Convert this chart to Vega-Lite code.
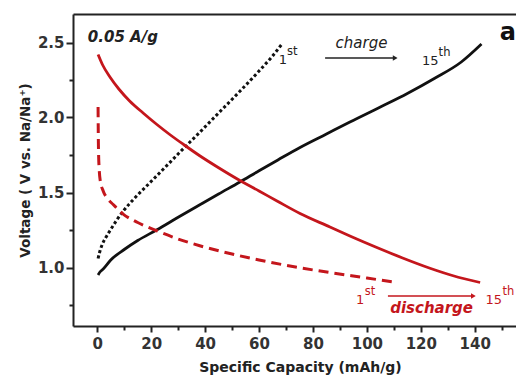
{
  "$schema": "https://vega.github.io/schema/vega-lite/v6.json",
  "width": 443,
  "height": 312,
  "autosize": {"type": "none"},
  "padding": {"left": 73, "top": 14, "right": 0, "bottom": 53},
  "background": "white",
  "config": {"view": {"stroke": null}},
  "datasets": {
    "curves": [
      {"series": "c1", "cap": 0.3, "v": 1.06}, {"series": "c1", "cap": 1, "v": 1.11}, {"series": "c1", "cap": 2, "v": 1.16}, {"series": "c1", "cap": 3.5, "v": 1.21}, {"series": "c1", "cap": 4.7, "v": 1.245}, {"series": "c1", "cap": 7, "v": 1.31}, {"series": "c1", "cap": 9.6, "v": 1.375}, {"series": "c1", "cap": 14, "v": 1.465}, {"series": "c1", "cap": 19.5, "v": 1.565}, {"series": "c1", "cap": 25, "v": 1.665}, {"series": "c1", "cap": 30.7, "v": 1.77}, {"series": "c1", "cap": 38.2, "v": 1.905}, {"series": "c1", "cap": 45, "v": 2.03}, {"series": "c1", "cap": 52.9, "v": 2.175}, {"series": "c1", "cap": 60, "v": 2.31}, {"series": "c1", "cap": 65, "v": 2.41}, {"series": "c1", "cap": 68.5, "v": 2.49},
      {"series": "c15", "cap": 0.3, "v": 0.95}, {"series": "c15", "cap": 1, "v": 0.97}, {"series": "c15", "cap": 2.2, "v": 0.99}, {"series": "c15", "cap": 5, "v": 1.05}, {"series": "c15", "cap": 10, "v": 1.12}, {"series": "c15", "cap": 15, "v": 1.18}, {"series": "c15", "cap": 22, "v": 1.25}, {"series": "c15", "cap": 30, "v": 1.335}, {"series": "c15", "cap": 38.2, "v": 1.42}, {"series": "c15", "cap": 45, "v": 1.49}, {"series": "c15", "cap": 52.9, "v": 1.57}, {"series": "c15", "cap": 60, "v": 1.645}, {"series": "c15", "cap": 67, "v": 1.717}, {"series": "c15", "cap": 75.2, "v": 1.8}, {"series": "c15", "cap": 85, "v": 1.89}, {"series": "c15", "cap": 93.7, "v": 1.97}, {"series": "c15", "cap": 105, "v": 2.07}, {"series": "c15", "cap": 115, "v": 2.16}, {"series": "c15", "cap": 125, "v": 2.26}, {"series": "c15", "cap": 135, "v": 2.37}, {"series": "c15", "cap": 142.5, "v": 2.49},
      {"series": "d15", "cap": 0.3, "v": 2.42}, {"series": "d15", "cap": 2, "v": 2.35}, {"series": "d15", "cap": 4.7, "v": 2.27}, {"series": "d15", "cap": 8, "v": 2.19}, {"series": "d15", "cap": 12, "v": 2.11}, {"series": "d15", "cap": 17, "v": 2.03}, {"series": "d15", "cap": 22, "v": 1.955}, {"series": "d15", "cap": 27, "v": 1.885}, {"series": "d15", "cap": 32, "v": 1.82}, {"series": "d15", "cap": 38, "v": 1.745}, {"series": "d15", "cap": 45, "v": 1.665}, {"series": "d15", "cap": 52.9, "v": 1.58}, {"series": "d15", "cap": 60, "v": 1.51}, {"series": "d15", "cap": 67, "v": 1.44}, {"series": "d15", "cap": 75.2, "v": 1.36}, {"series": "d15", "cap": 86.3, "v": 1.27}, {"series": "d15", "cap": 93.7, "v": 1.21}, {"series": "d15", "cap": 104.8, "v": 1.125}, {"series": "d15", "cap": 113, "v": 1.065}, {"series": "d15", "cap": 123.4, "v": 0.995}, {"series": "d15", "cap": 132, "v": 0.945}, {"series": "d15", "cap": 142, "v": 0.9},
      {"series": "d1", "cap": 0.3, "v": 2.07}, {"series": "d1", "cap": 0.35, "v": 1.95}, {"series": "d1", "cap": 0.4, "v": 1.85}, {"series": "d1", "cap": 0.5, "v": 1.75}, {"series": "d1", "cap": 0.7, "v": 1.66}, {"series": "d1", "cap": 1.1, "v": 1.58}, {"series": "d1", "cap": 2.2, "v": 1.51}, {"series": "d1", "cap": 4, "v": 1.455}, {"series": "d1", "cap": 5.9, "v": 1.42}, {"series": "d1", "cap": 9.6, "v": 1.356}, {"series": "d1", "cap": 15, "v": 1.3}, {"series": "d1", "cap": 22, "v": 1.245}, {"series": "d1", "cap": 30, "v": 1.19}, {"series": "d1", "cap": 38, "v": 1.145}, {"series": "d1", "cap": 50, "v": 1.09}, {"series": "d1", "cap": 60, "v": 1.05}, {"series": "d1", "cap": 73, "v": 1.005}, {"series": "d1", "cap": 86, "v": 0.967}, {"series": "d1", "cap": 100, "v": 0.93}, {"series": "d1", "cap": 111, "v": 0.9}
    ]
  },
  "resolve": {"axis": {"x": "independent", "y": "independent"}},
  "layer": [
    {
      "data": {"name": "curves"},
      "transform": [{"filter": "datum.series === 'c15'"}],
      "mark": {"type": "line", "color": "#111111", "strokeWidth": 2.8, "interpolate": "monotone"},
      "encoding": {
        "x": {"field": "cap", "type": "quantitative", "scale": {"domain": [-9, 155.3], "nice": false, "zero": false},
          "axis": {"orient": "bottom", "values": [0, 20, 40, 60, 80, 100, 120, 140], "grid": false, "tickSize": 6, "tickWidth": 2, "tickColor": "#222222", "domainColor": "#222222", "domainWidth": 2, "labelFont": "DejaVu Sans", "labelFontWeight": "bold", "labelFontSize": 15, "labelColor": "#333333", "labelPadding": 4, "title": "Specific Capacity (mAh/g)", "titleFont": "DejaVu Sans", "titleFontSize": 14, "titleFontWeight": "bold", "titleColor": "#222222", "titlePadding": 9, "titleX": 227, "titleAlign": "center", "titleAnchor": "start"}},
        "y": {"field": "v", "type": "quantitative", "scale": {"domain": [0.61, 2.69], "nice": false, "zero": false},
          "axis": {"orient": "left", "values": [1, 1.5, 2, 2.5], "format": ".1f", "grid": false, "tickSize": 7, "tickWidth": 2, "tickColor": "#222222", "domainColor": "#222222", "domainWidth": 2, "labelFont": "DejaVu Sans", "labelFontWeight": "bold", "labelFontSize": 15, "labelColor": "#333333", "labelPadding": 2, "title": "Voltage ( V vs. Na/Na⁺)", "titleFont": "DejaVu Sans", "titleFontSize": 13.5, "titleFontWeight": "bold", "titleColor": "#222222", "titlePadding": 5}}
      }
    },
    {
      "data": {"name": "curves"},
      "transform": [{"filter": "datum.series === 'c1'"}],
      "mark": {"type": "line", "color": "#111111", "strokeWidth": 3, "strokeDash": [3, 2.5], "interpolate": "monotone"},
      "encoding": {
        "x": {"field": "cap", "type": "quantitative", "axis": {"orient": "bottom", "values": [10, 30, 50, 70, 90, 110, 130, 150], "labels": false, "domain": false, "grid": false, "tickSize": 4, "tickWidth": 2, "tickColor": "#222222", "title": null}},
        "y": {"field": "v", "type": "quantitative", "axis": {"orient": "left", "values": [0.75, 1.25, 1.75, 2.25], "labels": false, "domain": false, "grid": false, "tickSize": 4, "tickWidth": 2, "tickColor": "#222222", "title": null}}
      }
    },
    {
      "data": {"name": "curves"},
      "transform": [{"filter": "datum.series === 'd15'"}],
      "mark": {"type": "line", "color": "#c4161c", "strokeWidth": 2.8, "interpolate": "monotone"},
      "encoding": {
        "x": {"field": "cap", "type": "quantitative", "axis": {"orient": "top", "labels": false, "ticks": false, "domain": true, "domainColor": "#222222", "domainWidth": 2, "grid": false, "title": null}},
        "y": {"field": "v", "type": "quantitative", "axis": null}
      }
    },
    {
      "data": {"name": "curves"},
      "transform": [{"filter": "datum.series === 'd1'"}],
      "mark": {"type": "line", "color": "#c4161c", "strokeWidth": 3, "strokeDash": [10, 6], "interpolate": "monotone"},
      "encoding": {
        "x": {"field": "cap", "type": "quantitative", "axis": null},
        "y": {"field": "v", "type": "quantitative", "axis": null}
      }
    },
    {
      "data": {"values": [{"label": "0.05 A/g", "cap": -3.5, "v": 2.535}]},
      "mark": {"type": "text", "font": "DejaVu Sans", "fontSize": 15, "fontWeight": "bold", "fontStyle": "italic", "align": "left", "baseline": "middle", "color": "#222222"},
      "encoding": {"x": {"field": "cap", "type": "quantitative", "axis": null}, "y": {"field": "v", "type": "quantitative", "axis": null}, "text": {"field": "label"}}
    },
    {
      "data": {"values": [{"label": "charge", "cap": 98, "v": 2.5}]},
      "mark": {"type": "text", "font": "DejaVu Sans", "fontSize": 15, "fontStyle": "italic", "align": "center", "baseline": "middle", "color": "#222222"},
      "encoding": {"x": {"field": "cap", "type": "quantitative", "axis": null}, "y": {"field": "v", "type": "quantitative", "axis": null}, "text": {"field": "label"}}
    },
    {
      "data": {"values": [{"label": "discharge", "cap": 124, "v": 0.73}]},
      "mark": {"type": "text", "font": "DejaVu Sans", "fontSize": 15, "fontWeight": "bold", "fontStyle": "italic", "align": "center", "baseline": "middle", "color": "#c4161c"},
      "encoding": {"x": {"field": "cap", "type": "quantitative", "axis": null}, "y": {"field": "v", "type": "quantitative", "axis": null}, "text": {"field": "label"}}
    },
    {
      "data": {"values": [{"label": "1", "cap": 67.3, "v": 2.385}, {"label": "15", "cap": 120.4, "v": 2.375}]},
      "mark": {"type": "text", "font": "DejaVu Sans", "fontSize": 13, "align": "left", "baseline": "middle", "color": "#222222"},
      "encoding": {"x": {"field": "cap", "type": "quantitative", "axis": null}, "y": {"field": "v", "type": "quantitative", "axis": null}, "text": {"field": "label"}}
    },
    {
      "data": {"values": [{"label": "st", "cap": 70.4, "v": 2.44}, {"label": "th", "cap": 126.6, "v": 2.43}]},
      "mark": {"type": "text", "font": "DejaVu Sans", "fontSize": 11.5, "align": "left", "baseline": "middle", "color": "#222222"},
      "encoding": {"x": {"field": "cap", "type": "quantitative", "axis": null}, "y": {"field": "v", "type": "quantitative", "axis": null}, "text": {"field": "label"}}
    },
    {
      "data": {"values": [{"label": "1", "cap": 96.0, "v": 0.785}, {"label": "15", "cap": 144.0, "v": 0.785}]},
      "mark": {"type": "text", "font": "DejaVu Sans", "fontSize": 13, "align": "left", "baseline": "middle", "color": "#c4161c"},
      "encoding": {"x": {"field": "cap", "type": "quantitative", "axis": null}, "y": {"field": "v", "type": "quantitative", "axis": null}, "text": {"field": "label"}}
    },
    {
      "data": {"values": [{"label": "st", "cap": 99.2, "v": 0.84}, {"label": "th", "cap": 150.3, "v": 0.835}]},
      "mark": {"type": "text", "font": "DejaVu Sans", "fontSize": 11.5, "align": "left", "baseline": "middle", "color": "#c4161c"},
      "encoding": {"x": {"field": "cap", "type": "quantitative", "axis": null}, "y": {"field": "v", "type": "quantitative", "axis": null}, "text": {"field": "label"}}
    },
    {
      "data": {"values": [{"label": "a", "cap": 152.3, "v": 2.565}]},
      "mark": {"type": "text", "font": "DejaVu Sans", "fontSize": 24, "fontWeight": "bold", "align": "center", "baseline": "middle", "color": "#111111"},
      "encoding": {"x": {"field": "cap", "type": "quantitative", "axis": null}, "y": {"field": "v", "type": "quantitative", "axis": null}, "text": {"field": "label"}}
    },
    {
      "data": {"values": [{"from": 84.5, "to": 110.5, "v": 2.396}]},
      "mark": {"type": "rule", "color": "#222222", "strokeWidth": 1.5},
      "encoding": {"x": {"field": "from", "type": "quantitative", "axis": null}, "x2": {"field": "to"}, "y": {"field": "v", "type": "quantitative", "axis": null}}
    },
    {
      "data": {"values": [{"to": 110.5, "v": 2.396}]},
      "mark": {"type": "point", "shape": "triangle-right", "filled": true, "color": "#222222", "size": 30, "opacity": 1},
      "encoding": {"x": {"field": "to", "type": "quantitative", "axis": null}, "y": {"field": "v", "type": "quantitative", "axis": null}}
    },
    {
      "data": {"values": [{"from": 107.8, "to": 139.5, "v": 0.81}]},
      "mark": {"type": "rule", "color": "#c4161c", "strokeWidth": 1.5},
      "encoding": {"x": {"field": "from", "type": "quantitative", "axis": null}, "x2": {"field": "to"}, "y": {"field": "v", "type": "quantitative", "axis": null}}
    },
    {
      "data": {"values": [{"to": 139.5, "v": 0.81}]},
      "mark": {"type": "point", "shape": "triangle-right", "filled": true, "color": "#c4161c", "size": 30, "opacity": 1},
      "encoding": {"x": {"field": "to", "type": "quantitative", "axis": null}, "y": {"field": "v", "type": "quantitative", "axis": null}}
    }
  ]
}
